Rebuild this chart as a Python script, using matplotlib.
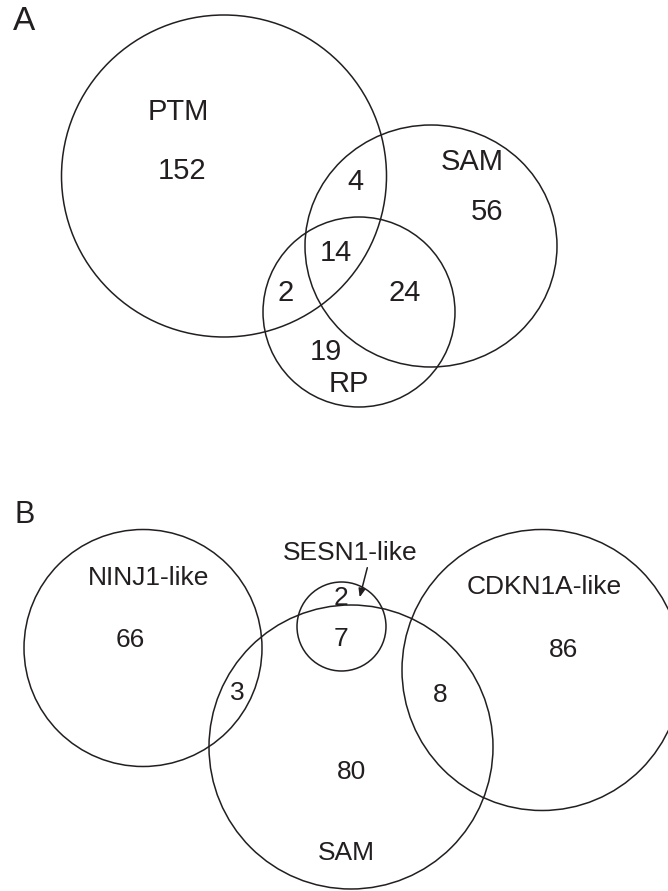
import matplotlib
matplotlib.use("Agg")
import matplotlib.pyplot as plt
from matplotlib.patches import Ellipse

plt.rcParams['font.family'] = ['Liberation Sans', 'DejaVu Sans']

# panel A: sets and region counts
sets_a = ["PTM", "SAM", "RP"]
counts_a = [152, 56, 19, 4, 2, 24, 14]   # PTM only, SAM only, RP only, PTM&SAM, PTM&RP, SAM&RP, all

# panel B: sets and region counts
sets_b = ["NINJ1-like", "SESN1-like", "SAM", "CDKN1A-like"]
counts_b = [66, 2, 80, 86, 3, 7, 8]      # NINJ1, SESN1, SAM, CDKN1A, NINJ1&SAM, SESN1&SAM, CDKN1A&SAM

# layout in pixels (x, y, width, height) -- y measured from the top
shapes_a = [(224, 176, 325, 322), (431, 246, 252, 242), (359, 312, 192, 190)]
shapes_b = [(143, 648, 238, 237), (341.5, 626.5, 89, 89), (351, 747, 284, 284), (542, 670, 280, 281)]
label_pos_a = [(178, 112), (472, 162), (349, 384)]
count_pos_a = [(182, 171), (487, 212), (326, 352), (355, 182), (286, 293), (405, 293), (336, 253)]
label_pos_b = [(149, 578), (350, 553), (346, 853), (544, 587)]
count_pos_b = [(130, 640), (341, 598), (352, 772), (564, 650), (237, 693), (341, 639), (440, 695)]

ink = "#231f20"

fig = plt.figure(figsize=(6.68, 8.91), dpi=100)
ax = fig.add_axes([0, 0, 1, 1])
ax.set_xlim(0, 668)
ax.set_ylim(891, 0)
ax.set_aspect("equal")
ax.axis("off")

for (x, y, w, h) in shapes_a + shapes_b:
    ax.add_patch(Ellipse((x, y), w, h, fill=False, edgecolor=ink, lw=1.1))

for name, (x, y) in zip(sets_a, label_pos_a):
    ax.text(x, y, name, fontsize=21, ha="center", va="center", color=ink)
for n, (x, y) in zip(counts_a, count_pos_a):
    ax.text(x, y, str(n), fontsize=21, ha="center", va="center", color=ink)

for name, (x, y) in zip(sets_b, label_pos_b):
    ax.text(x, y, name, fontsize=19, ha="center", va="center", color=ink)
for n, (x, y) in zip(counts_b, count_pos_b):
    ax.text(x, y, str(n), fontsize=19, ha="center", va="center", color=ink)

# arrow from SESN1-like label into its only region
ax.annotate("", xy=(359, 600), xytext=(368, 565),
            arrowprops=dict(arrowstyle="-|>,head_length=0.5,head_width=0.2",
                            color=ink, lw=1.1))

ax.text(24, 22, "A", fontsize=24, ha="center", va="center", color=ink)
ax.text(25, 515, "B", fontsize=22, ha="center", va="center", color=ink)

fig.savefig("out.png", dpi=100)
